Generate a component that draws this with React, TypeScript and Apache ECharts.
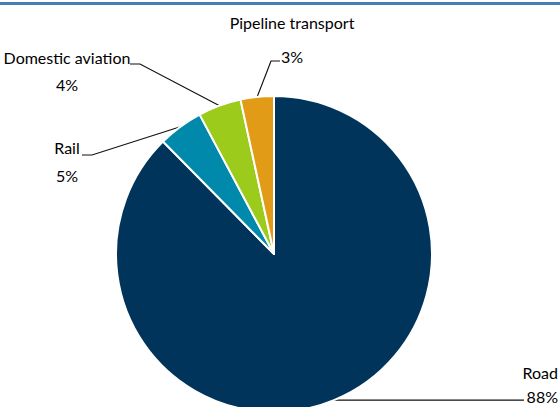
import React, { useEffect, useRef } from "react";
import * as echarts from "echarts";

const categories = ["Road", "Rail", "Domestic aviation", "Pipeline transport"];
const shares = [87.6, 4.6, 4.4, 3.4];
const sliceColors = ["#00345A", "#0089AB", "#9DCB1C", "#E29B17"];

// label placement (x, top y, line height, align) and leader elbow / end
const labelSpots = [
  { x: 558, y: 360, lh: 24, align: "right", elbowX: null as number | null, endX: 524, endY: null as number | null },
  { x: 67, y: 133, lh: 28, align: "center", elbowX: 92, endX: 82, endY: 155 },
  { x: 67, y: 44, lh: 27, align: "center", elbowX: 140, endX: 130, endY: 64 },
  { x: 292, y: 5, lh: 34, align: "center", elbowX: 271, endX: 280, endY: 61 },
];

const FONT = "Lato, 'Noto Sans', sans-serif";

export default function App() {
  const ref = useRef<HTMLDivElement>(null);
  useEffect(() => {
    if (!ref.current) return;
    const chart = echarts.init(ref.current, undefined, { renderer: "svg" });
    const data = categories.map((name, i) => ({
      name,
      value: shares[i],
      itemStyle: { color: sliceColors[i] },
      label: { lineHeight: labelSpots[i].lh },
    }));
    chart.setOption({
      animation: false,
      backgroundColor: "#ffffff",
      graphic: [
        {
          type: "rect",
          left: 0,
          top: 2,
          shape: { width: 560, height: 3 },
          style: { fill: "#4A7EBB" },
        },
      ],
      series: [
        {
          type: "pie",
          center: [274, 254],
          radius: 158,
          startAngle: 90,
          clockwise: true,
          avoidLabelOverlap: false,
          itemStyle: { borderColor: "#ffffff", borderWidth: 2 },
          label: {
            show: true,
            position: "outside",
            fontFamily: FONT,
            fontSize: 16,
            color: "#000000",
            formatter: (p: any) => `${p.name}\n${Math.round(p.percent)}%`,
          },
          labelLine: {
            show: true,
            smooth: false,
            lineStyle: { color: "#111111", width: 1.2 },
          },
          labelLayout: (params: any) => {
            const s = labelSpots[params.dataIndex];
            const pts = params.labelLinePoints;
            const start = pts && pts[0] ? pts[0] : [0, 0];
            let linePts: number[][];
            if (s.elbowX == null) {
              const endY = start[1];
              linePts = [start, [(start[0] + s.endX) / 2, endY], [s.endX, endY]];
            } else {
              linePts = [start, [s.elbowX, s.endY as number], [s.endX, s.endY as number]];
            }
            return {
              x: s.x,
              y: s.y,
              align: s.align,
              verticalAlign: "top",
              labelLinePoints: linePts,
            };
          },
          emphasis: { disabled: true },
          data,
        },
      ],
    });
    return () => chart.dispose();
  }, []);
  return (
    <div
      ref={ref}
      style={{ position: "absolute", left: 0, top: 0, width: 560, height: 407 }}
    />
  );
}
